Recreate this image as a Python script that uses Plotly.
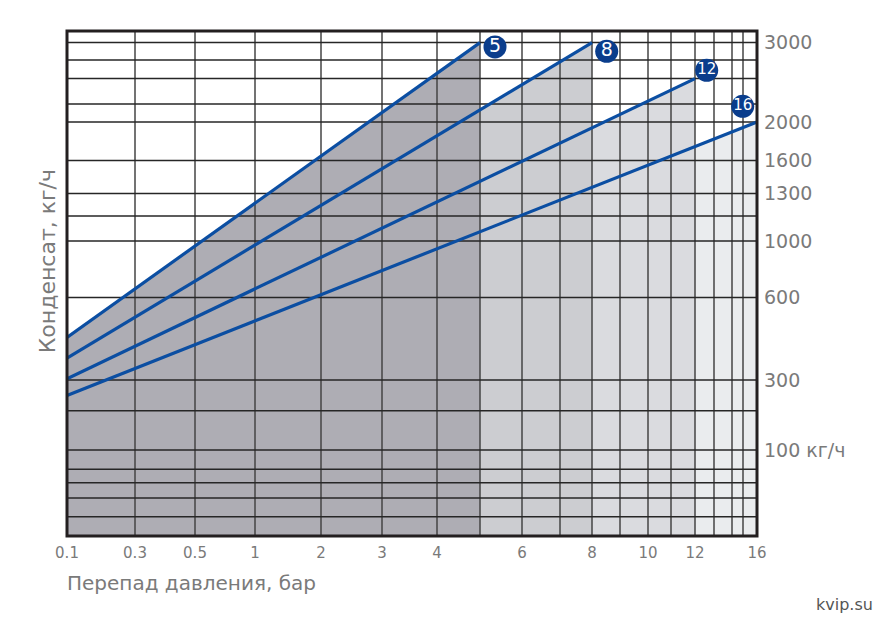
import numpy as np
import plotly.graph_objects as go

# ---------------- data ----------------
PRESSURE_TICKS = [0.1, 0.3, 0.5, 1, 2, 3, 4, 5, 6, 7, 8, 9, 10, 11, 12, 13, 14, 15, 16]
PRESSURE_LABELS = ["0.1", "0.3", "0.5", "1", "2", "3", "4", "", "6", "", "8", "",
                   "10", "", "12", "", "", "", "16"]
FLOW_TICKS = [0, 20, 40, 60, 80, 100, 200, 300, 600, 1000, 1200, 1300, 1600,
              2000, 2200, 2500, 2800, 3000, 3200]
FLOW_LABELS = ["", "", "", "", "", "100 кг/ч", "", "300", "600", "1000", "", "1300",
               "1600", "2000", "", "", "", "3000", ""]

SERIES_NAMES = ["5", "8", "12", "16"]
DP_START = [0.1, 0.1, 0.1, 0.1]
DP_END = [5, 8, 12, 16]
FLOW_START = [455, 380, 305, 250]
FLOW_END = [3000, 3000, 2500, 2000]

# ------------- custom (non-uniform) nomogram scales -------------
X_SCALE_POS = [0, 68, 128, 188, 254, 315, 370, 413, 455, 493, 525, 553, 581, 604,
               628, 647, 665, 676, 690]
Y_SCALE_POS = [0, 19.3, 38, 53.3, 66.7, 86, 125.3, 156, 238.7, 295.3, 320.3, 342.7,
               375.7, 414.3, 432.3, 457.7, 476.3, 493.7, 505.3]


def fx(v):
    return float(np.interp(v, PRESSURE_TICKS, X_SCALE_POS))


def fy(v):
    return float(np.interp(v, FLOW_TICKS, Y_SCALE_POS))


# styles
ZONE_COLORS = ["#aeadb4", "#cccdd1", "#dadbdf", "#eaecee"]
LINE_COLOR = "#0b4ea2"
BADGE_COLOR = "#0a3d8c"
BADGE_OFFSETS = [(15, -4.4), (14.7, -8.7), (11.7, 8.3), (-14.3, 15.7)]  # px
BADGE_FONT = [19, 19, 15, 15]
TEXT_GRAY = "#7a7a7a"
FONT = "DejaVu Sans"

fig = go.Figure()

# shaded zones (draw lightest first)
for i in reversed(range(len(SERIES_NAMES))):
    x0, x1 = fx(DP_START[i]), fx(DP_END[i])
    yb = fy(FLOW_TICKS[0])
    fig.add_trace(go.Scatter(
        x=[x0, x0, x1, x1, x0],
        y=[yb, fy(FLOW_START[i]), fy(FLOW_END[i]), yb, yb],
        mode="lines", fill="toself", fillcolor=ZONE_COLORS[i],
        line=dict(width=0), hoverinfo="skip", showlegend=False))

# grid lines
ymin, ymax = Y_SCALE_POS[0], Y_SCALE_POS[-1]
xmin, xmax = X_SCALE_POS[0], X_SCALE_POS[-1]
gx, gy = [], []
for v in PRESSURE_TICKS[1:-1]:
    gx += [fx(v), fx(v), None]
    gy += [ymin, ymax, None]
fig.add_trace(go.Scatter(x=gx, y=gy, mode="lines",
                         line=dict(color="#444444", width=1.5),
                         hoverinfo="skip", showlegend=False))
hx, hy = [], []
for v in FLOW_TICKS[1:-1]:
    hx += [xmin, xmax, None]
    hy += [fy(v), fy(v), None]
fig.add_trace(go.Scatter(x=hx, y=hy, mode="lines",
                         line=dict(color="#262626", width=1.5),
                         hoverinfo="skip", showlegend=False))

# blue lines
for i in range(len(SERIES_NAMES)):
    fig.add_trace(go.Scatter(
        x=[fx(DP_START[i]), fx(DP_END[i])],
        y=[fy(FLOW_START[i]), fy(FLOW_END[i])],
        mode="lines", line=dict(color=LINE_COLOR, width=3.2),
        hoverinfo="skip", showlegend=False))

# badges
for i in range(len(SERIES_NAMES)):
    dx, dy = BADGE_OFFSETS[i]
    fig.add_trace(go.Scatter(
        x=[fx(DP_END[i]) + dx], y=[fy(FLOW_END[i]) + dy],
        mode="markers+text", text=[SERIES_NAMES[i]], textposition="middle center",
        textfont=dict(color="white", size=BADGE_FONT[i], family=FONT),
        marker=dict(size=23, color=BADGE_COLOR, line=dict(width=0)),
        hoverinfo="skip", showlegend=False, cliponaxis=False))

# the page body adds an 8px offset, so margins compensate for it
fig.update_layout(
    width=892, height=629,
    margin=dict(l=59, r=143, t=23, b=101, autoexpand=False),
    paper_bgcolor="white", plot_bgcolor="white",
    showlegend=False,
    font=dict(family=FONT, color=TEXT_GRAY),
    xaxis=dict(range=[xmin, xmax], showgrid=False, zeroline=False,
               tickmode="array", tickvals=[fx(v) for v in PRESSURE_TICKS],
               ticktext=PRESSURE_LABELS, ticks="", ticklabelstandoff=6,
               tickfont=dict(size=15, color=TEXT_GRAY, family=FONT), fixedrange=True),
    yaxis=dict(range=[ymin, ymax], showgrid=False, zeroline=False, side="right",
               tickmode="array", tickvals=[fy(v) for v in FLOW_TICKS],
               ticktext=FLOW_LABELS, ticks="", ticklabelstandoff=6,
               tickfont=dict(size=19, color=TEXT_GRAY, family=FONT), fixedrange=True),
    shapes=[dict(type="rect", xref="paper", yref="paper", x0=0, y0=0, x1=1, y1=1,
                 line=dict(color="#231f20", width=3), layer="above")],
    annotations=[
        dict(text="Конденсат, кг/ч", xref="paper", yref="paper", x=-0.029, y=0.544,
             textangle=-90, showarrow=False, xanchor="center", yanchor="middle",
             font=dict(size=22, color=TEXT_GRAY, family=FONT)),
        dict(text="Перепад давления, бар", xref="paper", yref="paper", x=-0.003, y=-0.093,
             showarrow=False, xanchor="left", yanchor="middle",
             font=dict(size=20, color=TEXT_GRAY, family=FONT)),
        dict(text="kvip.su", xref="paper", yref="paper", x=1.1275, y=-0.1366,
             showarrow=False, xanchor="center", yanchor="middle",
             font=dict(size=16, color="#555555", family=FONT)),
    ],
)

fig.write_html("out.html")
